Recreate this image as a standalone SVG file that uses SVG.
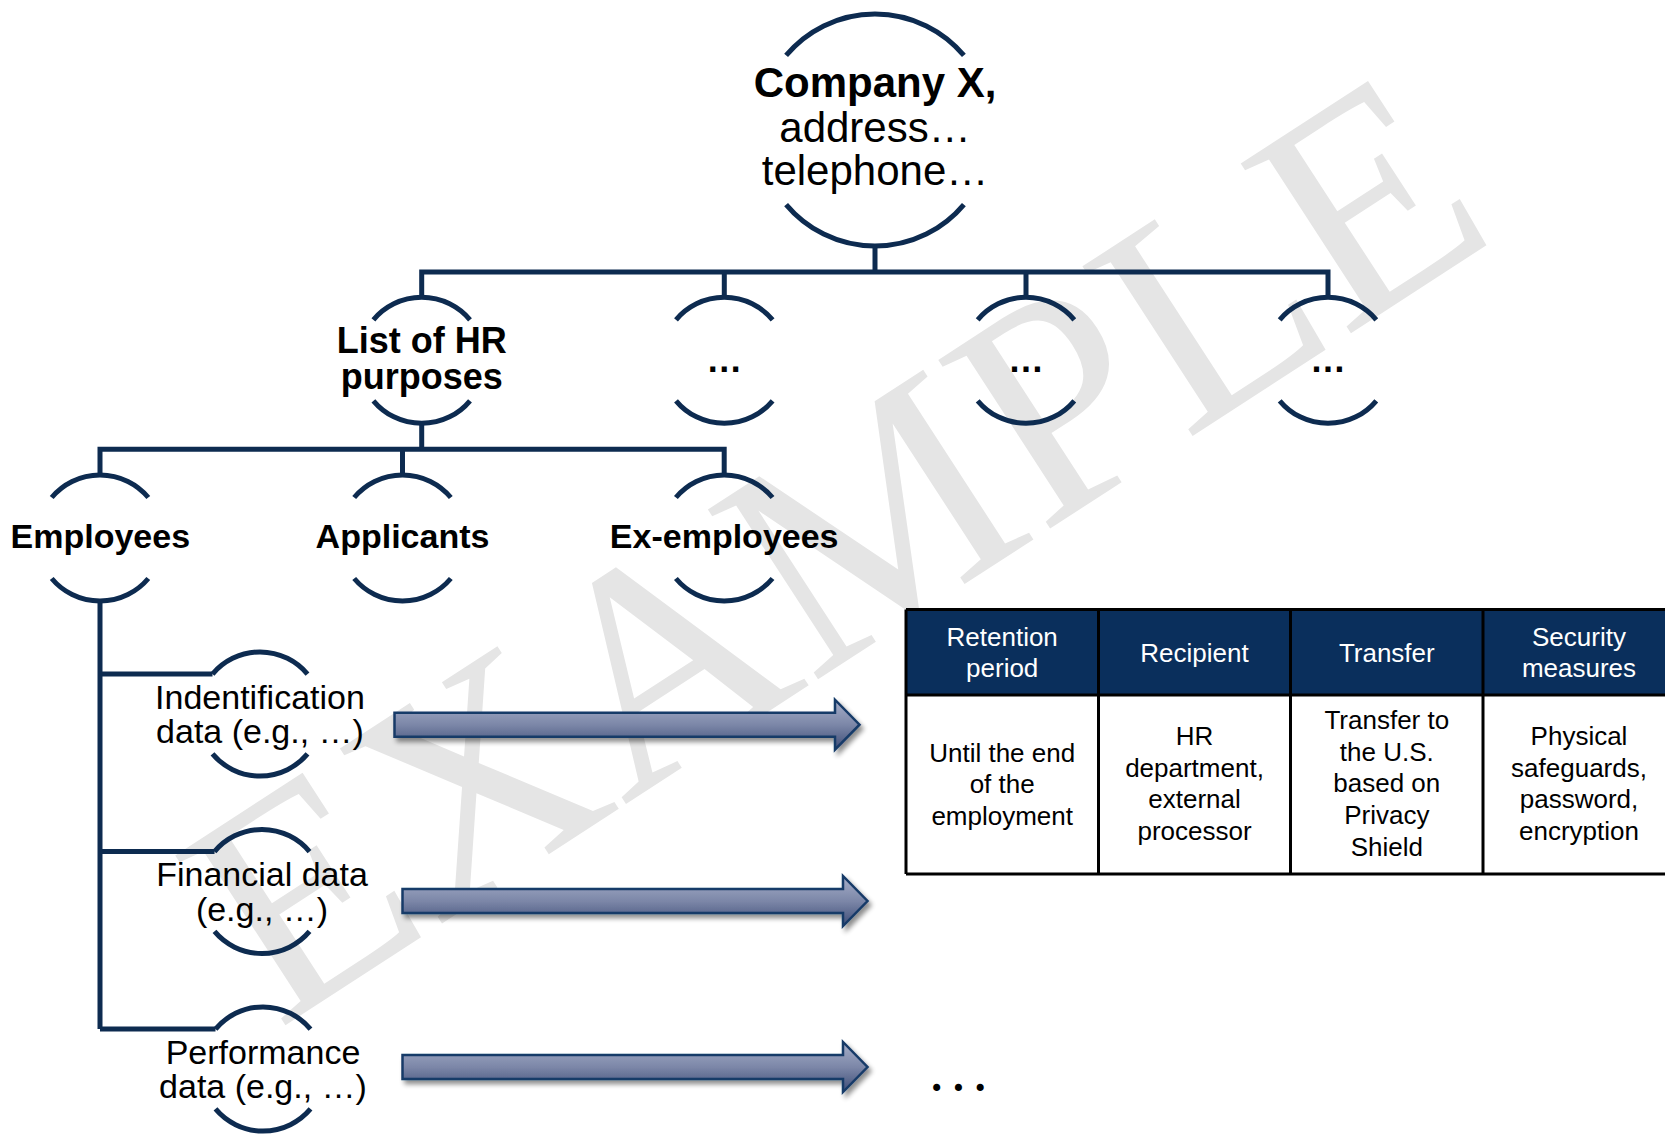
<svg xmlns="http://www.w3.org/2000/svg" width="1665" height="1134" viewBox="0 0 1665 1134">
<style>
.arc{fill:none;stroke:#0d2b50;stroke-width:5}
.con{fill:none;stroke:#0d2b50;stroke-width:5}
.b{font-family:"Liberation Sans",Arial,sans-serif;font-weight:bold;fill:#000;text-anchor:middle}
.r{font-family:"Liberation Sans",Arial,sans-serif;fill:#000;text-anchor:middle}
.th{font-family:"Liberation Sans",Arial,sans-serif;font-size:26px;fill:#fff;text-anchor:middle}
.td{font-family:"Liberation Sans",Arial,sans-serif;font-size:26px;fill:#000;text-anchor:middle}
.wm{font-family:"Liberation Serif","Times New Roman",serif;font-size:309px;fill:#e5e5e5}
.arrow{fill:url(#ag);stroke:#173a68;stroke-width:2.5;filter:url(#sh)}
.grid{fill:none;stroke:#000;stroke-width:3}
</style>
<defs>
<linearGradient id="ag" x1="0" y1="0" x2="0" y2="1">
<stop offset="0" stop-color="#a7afc9"/>
<stop offset="0.5" stop-color="#7c87a8"/>
<stop offset="1" stop-color="#3e4d77"/>
</linearGradient>
<filter id="sh" x="-5%" y="-50%" width="115%" height="220%">
<feGaussianBlur in="SourceAlpha" stdDeviation="2.5"/>
<feOffset dx="3" dy="4" result="o"/>
<feComponentTransfer><feFuncA type="linear" slope="0.45"/></feComponentTransfer>
<feMerge><feMergeNode/><feMergeNode in="SourceGraphic"/></feMerge>
</filter>
</defs>
<rect width="1665" height="1134" fill="#fff"/>
<text class="wm" x="278" y="1030" transform="rotate(-33 278 1030)">EXAMPLE</text>

<g id="connectors">
<path class="con" d="M875 246V272"/>
<path class="con" d="M421.7 297.3V272H1328V297.3M724.3 272V297.3M1026 272V297.3"/>
<path class="con" d="M421.7 423.3V449.3"/>
<path class="con" d="M100 475V449.3H724.2V475M402.5 449.3V475"/>
<path class="con" d="M100 601V1029.1M100 674.1H212.5M100 851.6H214.5M100 1029.1H215.5"/>
<path class="arrow" d="M394.5 712.7H835V699.7L859.5 724.7L835 749.7V736.7H394.5Z"/>
<path class="arrow" d="M402.5 889H843V876L867.5 901L843 926V913H402.5Z"/>
<path class="arrow" d="M402.5 1055H843V1042L867.5 1067L843 1092V1079H402.5Z"/>
</g>

<g id="company">
<path class="arc" d="M786.1 55.4A116 116 0 0 1 963.9 55.4M786.1 204.6A116 116 0 0 0 963.9 204.6"/>
<text class="b" x="875" y="97" font-size="42">Company X,</text>
<text class="r" x="875" y="141.5" font-size="42">address…</text>
<text class="r" x="875" y="185" font-size="42">telephone…</text>
</g>

<g id="hr-purposes">
<path class="arc" d="M373.4 319.8A63 63 0 0 1 470 319.8M373.4 400.8A63 63 0 0 0 470 400.8"/>
<text class="b" x="421.7" y="353" font-size="36">List of HR</text>
<text class="b" x="421.7" y="388.5" font-size="36">purposes</text>
</g>
<g id="purpose-2">
<path class="arc" d="M676 319.8A63 63 0 0 1 772.6 319.8M676 400.8A63 63 0 0 0 772.6 400.8"/>
<text class="b" x="724.3" y="372" font-size="36">…</text>
</g>
<g id="purpose-3">
<path class="arc" d="M977.7 319.8A63 63 0 0 1 1074.3 319.8M977.7 400.8A63 63 0 0 0 1074.3 400.8"/>
<text class="b" x="1026" y="372" font-size="36">…</text>
</g>
<g id="purpose-4">
<path class="arc" d="M1279.7 319.8A63 63 0 0 1 1376.3 319.8M1279.7 400.8A63 63 0 0 0 1376.3 400.8"/>
<text class="b" x="1328" y="372" font-size="36">…</text>
</g>

<g id="employees">
<path class="arc" d="M51.7 497.5A63 63 0 0 1 148.3 497.5M51.7 578.5A63 63 0 0 0 148.3 578.5"/>
<text class="b" x="100.3" y="548" font-size="34">Employees</text>
</g>
<g id="applicants">
<path class="arc" d="M354.2 497.5A63 63 0 0 1 450.8 497.5M354.2 578.5A63 63 0 0 0 450.8 578.5"/>
<text class="b" x="402.5" y="548" font-size="34">Applicants</text>
</g>
<g id="ex-employees">
<path class="arc" d="M675.9 497.5A63 63 0 0 1 772.5 497.5M675.9 578.5A63 63 0 0 0 772.5 578.5"/>
<text class="b" x="724.2" y="548" font-size="34">Ex-employees</text>
</g>

<g id="identification">
<path class="arc" d="M212.5 674.1A62 62 0 0 1 307.5 674.1M212.5 753.9A62 62 0 0 0 307.5 753.9"/>
<text class="r" x="260" y="708.5" font-size="34">Indentification</text>
<text class="r" x="260" y="743" font-size="34">data (e.g., …)</text>
</g>
<g id="financial">
<path class="arc" d="M214.5 851.6A62 62 0 0 1 309.5 851.6M214.5 931.4A62 62 0 0 0 309.5 931.4"/>
<text class="r" x="262" y="886" font-size="34">Financial data</text>
<text class="r" x="262" y="920.5" font-size="34">(e.g., …)</text>
</g>
<g id="performance">
<path class="arc" d="M215.5 1029.1A62 62 0 0 1 310.5 1029.1M215.5 1108.9A62 62 0 0 0 310.5 1108.9"/>
<text class="r" x="263" y="1063.5" font-size="34">Performance</text>
<text class="r" x="263" y="1098" font-size="34">data (e.g., …)</text>
</g>

<g id="table">
<rect x="906" y="609.5" width="769" height="85.5" fill="#0a2f5c"/>
<rect x="906" y="695" width="769" height="179" fill="#fff"/>
<path class="grid" d="M906 609.5H1675M906 695H1675M906 874H1675M906 609.5V874M1098.5 609.5V874M1290.5 609.5V874M1483 609.5V874"/>
<text class="th" x="1002.2" y="645.5">Retention</text>
<text class="th" x="1002.2" y="676.5">period</text>
<text class="th" x="1194.5" y="661.5">Recipient</text>
<text class="th" x="1386.8" y="661.5">Transfer</text>
<text class="th" x="1579" y="645.5">Security</text>
<text class="th" x="1579" y="676.5">measures</text>
<text class="td" x="1002.2" y="761.7">Until the end</text>
<text class="td" x="1002.2" y="793.3">of the</text>
<text class="td" x="1002.2" y="825">employment</text>
<text class="td" x="1194.5" y="745">HR</text>
<text class="td" x="1194.5" y="776.7">department,</text>
<text class="td" x="1194.5" y="808.3">external</text>
<text class="td" x="1194.5" y="840">processor</text>
<text class="td" x="1386.8" y="729">Transfer to</text>
<text class="td" x="1386.8" y="760.7">the U.S.</text>
<text class="td" x="1386.8" y="792.3">based on</text>
<text class="td" x="1386.8" y="824">Privacy</text>
<text class="td" x="1386.8" y="855.7">Shield</text>
<text class="td" x="1579" y="745">Physical</text>
<text class="td" x="1579" y="776.7">safeguards,</text>
<text class="td" x="1579" y="808.3">password,</text>
<text class="td" x="1579" y="840">encryption</text>
</g>

<g id="more">
<text x="931.3" y="1091" font-family="Liberation Serif, serif" font-weight="bold" font-size="43.4" fill="#000">. . .</text>
</g>
</svg>
